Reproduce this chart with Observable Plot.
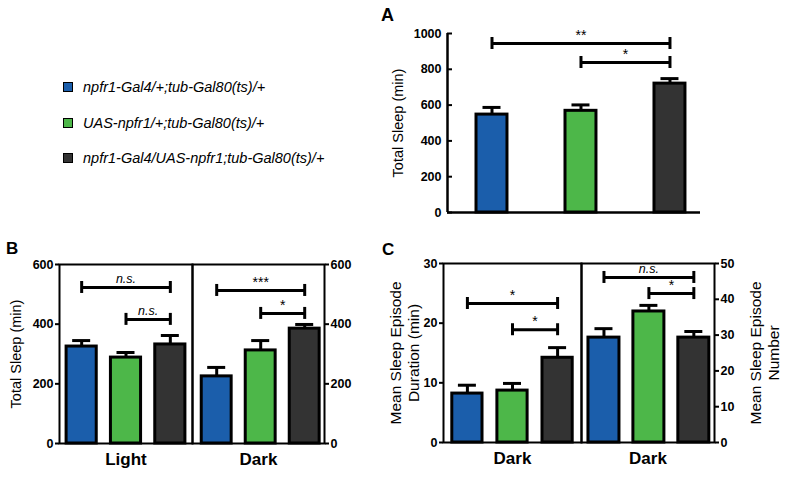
<!DOCTYPE html>
<html><head><meta charset="utf-8">
<script src="https://cdn.jsdelivr.net/npm/d3@7"></script>
<script src="https://cdn.jsdelivr.net/npm/@observablehq/plot@0.6"></script>
<style>
body{margin:0;background:#fff;}
#fig{position:relative;width:788px;height:481px;overflow:hidden;background:#fff;font-family:"Liberation Sans",Arial,sans-serif;color:#000;}
.pane{position:absolute;}
.pane svg{overflow:visible;}
.pane g[aria-label="y-axis tick label"]{font-weight:bold;fill:#000;}
.pane g[aria-label="y-axis tick label"] text{font-weight:bold;}
.letter{position:absolute;font-weight:bold;line-height:1;}
.leg{position:absolute;left:63px;height:16px;display:flex;align-items:center;font-style:italic;font-size:14.5px;white-space:nowrap;}
.sw{width:8px;height:8px;border:1.5px solid #000;margin-right:10px;}
</style></head>
<body>
<div id="fig"></div>
<script>
// ---- data ----
const genotypes = ["npfr1-Gal4/+;tub-Gal80(ts)/+", "UAS-npfr1/+;tub-Gal80(ts)/+", "npfr1-Gal4/UAS-npfr1;tub-Gal80(ts)/+"];
const genotypeColors = ["#1b5eab", "#4db749", "#333333"];
const periods = ["Light", "Dark"];

const totalSleep = [547, 568, 720];
const totalSleepSem = [40, 33, 28];
const totalTicks = [0, 200, 400, 600, 800, 1000];
const totalBrackets = [{from: 1, to: 3, y: 944, label: "**"}, {from: 2, to: 3, y: 838, label: "*"}];

const lightSleep = [325, 288, 332];
const lightSleepSem = [20, 17, 30];
const darkSleep = [225, 312, 385];
const darkSleepSem = [30, 33, 14];
const sleepTicks = [0, 200, 400, 600];
const lightBrackets = [{from: 1, to: 3, y: 523, label: "n.s."}, {from: 2, to: 3, y: 416, label: "n.s."}];
const darkBrackets = [{from: 1, to: 3, y: 513, label: "***"}, {from: 2, to: 3, y: 436, label: "*"}];

const darkDuration = [8.2, 8.7, 14.2];
const darkDurationSem = [1.4, 1.2, 1.7];
const durationTicks = [0, 10, 20, 30];
const durationBrackets = [{from: 1, to: 3, y: 23.3, label: "*"}, {from: 2, to: 3, y: 18.9, label: "*"}];

const darkNumber = [29.3, 36.6, 29.3];
const darkNumberSem = [2.5, 1.7, 1.7];
const numberTicks = [0, 10, 20, 30, 40, 50];
const numberBrackets = [{from: 1, to: 3, y: 46.1, label: "n.s."}, {from: 2, to: 3, y: 41.6, label: "*"}];

// ---- drawing ----
const fig = document.getElementById("fig");
const FONT = "'Liberation Sans', Arial, sans-serif";

function rows(values, sems) {
  return genotypes.map((g, k) => ({g, i: k + 1, v: values[k], e: sems[k]}));
}

function panel(o) {
  const data = rows(o.values, o.sems);
  const br = o.brackets;
  const marks = [];
  if (o.frame) {
    marks.push(Plot.frame({stroke: "black", strokeWidth: 2}));
  } else {
    marks.push(Plot.ruleX([o.xDomain[0]], {stroke: "black", strokeWidth: 2.5}));
    marks.push(Plot.ruleY([0], {stroke: "black", strokeWidth: 2.5}));
  }
  marks.push(Plot.axisY({anchor: o.anchor, ticks: o.ticks, tickFormat: d => String(d), tickSize: o.tickSize ?? 4, tickPadding: o.tickPadding ?? 2,
    fontWeight: "bold", fontSize: 12.5, label: null, strokeWidth: 2, fill: "black"}));
  marks.push(Plot.rectY(data, {x1: d => d.i - o.half, x2: d => d.i + o.half, y1: 0, y2: "v", fill: "g", stroke: "black", strokeWidth: 3}));
  marks.push(Plot.ruleX(data, {x: "i", y1: "v", y2: d => d.v + d.e, stroke: "black", strokeWidth: 3}));
  marks.push(Plot.ruleY(data, {x1: "i", x2: "i", y: d => d.v + d.e, insetLeft: -9, insetRight: -9, stroke: "black", strokeWidth: 3}));
  marks.push(Plot.ruleY(br, {x1: "from", x2: "to", y: "y", stroke: "black", strokeWidth: 3}));
  marks.push(Plot.ruleX(br, {x: "from", y1: "y", y2: "y", insetTop: -6, insetBottom: -6, stroke: "black", strokeWidth: 3}));
  marks.push(Plot.ruleX(br, {x: "to", y1: "y", y2: "y", insetTop: -6, insetBottom: -6, stroke: "black", strokeWidth: 3}));
  marks.push(Plot.text(br.filter(d => d.label !== "n.s."), {x: d => (d.from + d.to) / 2, y: "y", text: "label", dy: -8, fontSize: 14}));
  marks.push(Plot.text(br.filter(d => d.label === "n.s."), {x: d => (d.from + d.to) / 2, y: "y", text: "label", dy: -8, fontSize: 12.5, fontStyle: "italic"}));
  if (o.xlabel) marks.push(Plot.text([o.xlabel], {frameAnchor: "bottom", dy: 21, fontSize: 17, fontWeight: "bold"}));
  if (o.ylabel) marks.push(Plot.text([o.ylabel], {frameAnchor: o.anchor, rotate: -90, dx: o.ylabelDx, textAnchor: "middle", lineAnchor: "middle",
    fontSize: o.ylabelSize || 14.5, lineHeight: 1.18}));
  const chart = Plot.plot({
    width: o.width, height: o.height,
    marginLeft: o.mL, marginRight: o.mR, marginTop: o.mT, marginBottom: o.mB,
    style: {fontFamily: FONT, background: "transparent", overflow: "visible", color: "black"},
    x: {type: "linear", domain: o.xDomain, axis: null},
    y: {domain: o.yDomain},
    color: {domain: genotypes, range: genotypeColors},
    marks
  });
  const div = document.createElement("div");
  div.className = "pane";
  div.style.left = o.left + "px";
  div.style.top = o.top + "px";
  div.appendChild(chart);
  fig.appendChild(div);
}

// Panel A (ticks point inward)
panel({left: 360, top: 0, width: 350, height: 232, mL: 87, mR: 10, mT: 33, mB: 20,
  xDomain: [0.5, 3.343], yDomain: [0, 1000], half: 0.174, anchor: "left", ticks: totalTicks, tickSize: -5, tickPadding: 11,
  values: totalSleep, sems: totalSleepSem, brackets: totalBrackets, frame: false,
  ylabel: "Total Sleep (min)", ylabelDx: -50});

// Panel B
panel({left: 0, top: 230, width: 200, height: 251, mL: 59, mR: 8, mT: 34, mB: 38,
  xDomain: [0.5, 3.5], yDomain: [0, 600], half: 0.34, anchor: "left", ticks: sleepTicks,
  values: lightSleep, sems: lightSleepSem, brackets: lightBrackets, frame: true,
  xlabel: periods[0], ylabel: "Total Sleep (min)", ylabelDx: -44});
panel({left: 184, top: 230, width: 180, height: 251, mL: 8, mR: 40, mT: 34, mB: 38,
  xDomain: [0.45, 3.45], yDomain: [0, 600], half: 0.34, anchor: "right", ticks: sleepTicks,
  values: darkSleep, sems: darkSleepSem, brackets: darkBrackets, frame: true,
  xlabel: periods[1]});

// Panel C
panel({left: 373, top: 230, width: 216, height: 251, mL: 70, mR: 8, mT: 33, mB: 39,
  xDomain: [0.47, 3.53], yDomain: [0, 30], half: 0.335, anchor: "left", ticks: durationTicks,
  values: darkDuration, sems: darkDurationSem, brackets: durationBrackets, frame: true,
  xlabel: periods[1], ylabel: "Mean Sleep Episode\nDuration (min)", ylabelDx: -39, ylabelSize: 15.5});
panel({left: 573, top: 230, width: 215, height: 251, mL: 8, mR: 74, mT: 33, mB: 39,
  xDomain: [0.5, 3.46], yDomain: [0, 50], half: 0.345, anchor: "right", ticks: numberTicks,
  values: darkNumber, sems: darkNumberSem, brackets: numberBrackets, frame: true,
  xlabel: periods[1], ylabel: "Mean Sleep Episode\nNumber", ylabelDx: 50, ylabelSize: 15.5});

// panel letters
[["A", 381, 6, 18], ["B", 6, 240, 17], ["C", 382, 241, 17]].forEach(([t, x, y, s]) => {
  const d = document.createElement("div");
  d.className = "letter";
  d.textContent = t;
  d.style.left = x + "px"; d.style.top = y + "px"; d.style.fontSize = s + "px";
  fig.appendChild(d);
});

// legend
const legendY = [87, 123, 158];
genotypes.forEach((g, k) => {
  const row = document.createElement("div");
  row.className = "leg";
  row.style.top = (legendY[k] - 8) + "px";
  const sw = document.createElement("div");
  sw.className = "sw";
  sw.style.background = genotypeColors[k];
  const tx = document.createElement("span");
  tx.textContent = g;
  row.appendChild(sw); row.appendChild(tx);
  fig.appendChild(row);
});
</script>
</body></html>
